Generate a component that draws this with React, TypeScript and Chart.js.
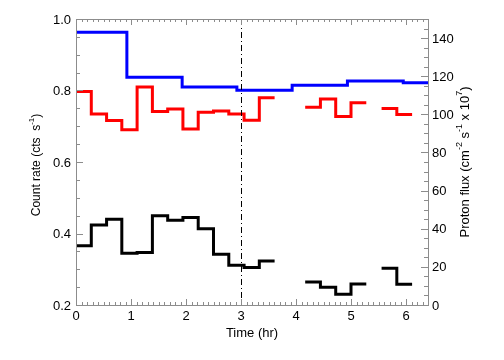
import { useEffect, useRef } from "react";
import { Chart, registerables } from "chart.js";

Chart.register(...registerables);

// Time bin edges (hr) for the count-rate light curves
const binEdges = [
  0, 0.278, 0.556, 0.833, 1.111, 1.389, 1.667, 1.944, 2.222, 2.5, 2.778, 3.056,
  3.333, 3.611, 3.889, 4.167, 4.444, 4.722, 5.0, 5.278, 5.556, 5.833, 6.111,
];
// Count rates (cts s^-1), null = no data
const redRate = [
  0.797, 0.734, 0.716, 0.69, 0.81, 0.741, 0.748, 0.692, 0.739, 0.743, 0.734,
  0.717, 0.78, null, null, 0.753, 0.776, 0.727, 0.766, null, 0.75, 0.733,
];
const blackRate = [
  0.366, 0.424, 0.44, 0.345, 0.347, 0.45, 0.437, 0.445, 0.413, 0.342, 0.311,
  0.305, 0.323, null, null, 0.264, 0.25, 0.23, 0.259, null, 0.303, 0.258,
];
// Proton flux (cm^-2 s^-1 x 10^7), hourly bins
const fluxEdges = [0, 0.925, 1.93, 2.925, 3.93, 4.935, 5.95, 6.4];
const protonFlux = [143.0, 119.4, 114.3, 112.6, 115.2, 117.5, 116.6];

// Axes
const xRange = [0, 6.4];
const xTicks = [0, 1, 2, 3, 4, 5, 6];
const xMinorStep = 0.1;
const leftRange = [0.2, 1.0];
const leftTicks = [0.2, 0.4, 0.6, 0.8, 1.0];
const leftMinorStep = 0.05;
const rightRange = [0, 150];
const rightTicks = [0, 20, 40, 60, 80, 100, 120, 140];
const rightMinorStep = 5;
const markerTimes = [3];

const FONT = "'Liberation Sans', Arial, Helvetica, sans-serif";
const AXIS_COLOR = "#8c8c8c";

function toSteps(edges: number[], values: (number | null)[]) {
  const pts: { x: number; y: number | null }[] = [];
  for (let i = 0; i < values.length; i++) {
    const v = values[i];
    if (v === null) continue;
    pts.push({ x: edges[i], y: v });
    if (i === values.length - 1 || values[i + 1] === null) {
      pts.push({ x: edges[i + 1], y: v });
      pts.push({ x: edges[i + 1], y: null });
    }
  }
  return pts;
}

type Part = { t: string; sup?: boolean };

function drawRich(ctx: CanvasRenderingContext2D, cx: number, cy: number, parts: Part[], size: number) {
  ctx.save();
  ctx.translate(cx, cy);
  ctx.rotate(-Math.PI / 2);
  ctx.fillStyle = "#000";
  ctx.textBaseline = "middle";
  ctx.textAlign = "left";
  const supSize = Math.round(size * 0.68);
  let total = 0;
  const widths = parts.map((p) => {
    ctx.font = `${p.sup ? supSize : size}px ${FONT}`;
    const w = ctx.measureText(p.t).width;
    total += w;
    return w;
  });
  let x = -total / 2;
  parts.forEach((p, i) => {
    ctx.font = `${p.sup ? supSize : size}px ${FONT}`;
    ctx.fillText(p.t, x, p.sup ? -size * 0.42 : 0);
    x += widths[i];
  });
  ctx.restore();
}

const framePlugin = {
  id: "idlFrame",
  afterDatasetsDraw(chart: any) {
    const ctx: CanvasRenderingContext2D = chart.ctx;
    const { left, right, top, bottom } = chart.chartArea;
    const xs = chart.scales.x;
    const yl = chart.scales.y;
    const yr = chart.scales.y1;

    // vertical dash-dot marker
    ctx.save();
    ctx.strokeStyle = "#000";
    ctx.lineWidth = 1;
    ctx.setLineDash([6, 3, 1, 3]);
    markerTimes.forEach((t) => {
      const px = Math.round(xs.getPixelForValue(t)) + 0.5;
      ctx.beginPath();
      ctx.moveTo(px, top);
      ctx.lineTo(px, bottom);
      ctx.stroke();
    });
    ctx.restore();

    // box
    ctx.save();
    ctx.strokeStyle = AXIS_COLOR;
    ctx.lineWidth = 1;
    ctx.strokeRect(Math.round(left) + 0.5, Math.round(top) + 0.5, Math.round(right - left), Math.round(bottom - top));

    const isMajor = (v: number, majors: number[]) => majors.some((m) => Math.abs(m - v) < 1e-6);

    // x ticks (bottom and top)
    ctx.beginPath();
    const nx = Math.round((xRange[1] - xRange[0]) / xMinorStep);
    for (let i = 0; i <= nx; i++) {
      const v = xRange[0] + i * xMinorStep;
      const px = Math.round(xs.getPixelForValue(v)) + 0.5;
      const len = isMajor(v, xTicks) ? 6 : 3;
      ctx.moveTo(px, bottom);
      ctx.lineTo(px, bottom - len);
      ctx.moveTo(px, top);
      ctx.lineTo(px, top + len);
    }
    // left ticks
    const nl = Math.round((leftRange[1] - leftRange[0]) / leftMinorStep);
    for (let i = 0; i <= nl; i++) {
      const v = leftRange[0] + i * leftMinorStep;
      const py = Math.round(yl.getPixelForValue(v)) + 0.5;
      const len = isMajor(v, leftTicks) ? 7 : 4;
      ctx.moveTo(left, py);
      ctx.lineTo(left + len, py);
    }
    // right ticks
    const nr = Math.round((rightRange[1] - rightRange[0]) / rightMinorStep);
    for (let i = 0; i <= nr; i++) {
      const v = rightRange[0] + i * rightMinorStep;
      const py = Math.round(yr.getPixelForValue(v)) + 0.5;
      const len = isMajor(v, rightTicks) ? 7 : 4;
      ctx.moveTo(right, py);
      ctx.lineTo(right - len, py);
    }
    ctx.stroke();
    ctx.restore();

    // axis titles with superscripts
    drawRich(
      ctx,
      37,
      (top + bottom) / 2 + 3,
      [{ t: "Count rate (cts  s" }, { t: "-1", sup: true }, { t: ")" }],
      12
    );
    drawRich(
      ctx,
      right + 37,
      (top + bottom) / 2,
      [
        { t: "Proton flux (cm" },
        { t: "-2", sup: true },
        { t: " s" },
        { t: "-1", sup: true },
        { t: " x 10" },
        { t: "7", sup: true },
        { t: ")" },
      ],
      13
    );
  },
};

export default function App() {
  const ref = useRef<HTMLCanvasElement | null>(null);

  useEffect(() => {
    document.body.style.margin = "0";
    if (!ref.current) return;
    const setTicks = (vals: number[]) => (scale: any) => {
      scale.ticks = vals.map((v) => ({ value: v }));
    };
    const chart = new Chart(ref.current, {
      type: "line",
      data: {
        datasets: [
          {
            label: "Proton flux",
            data: toSteps(fluxEdges, protonFlux),
            yAxisID: "y1",
            borderColor: "#0000ff",
            borderWidth: 3,
            stepped: "before",
            pointRadius: 0,
            spanGaps: false,
            borderJoinStyle: "miter",
            borderCapStyle: "butt",
          },
          {
            label: "Red count rate",
            data: toSteps(binEdges, redRate),
            yAxisID: "y",
            borderColor: "#ff0000",
            borderWidth: 3,
            stepped: "before",
            pointRadius: 0,
            spanGaps: false,
            borderJoinStyle: "miter",
            borderCapStyle: "butt",
          },
          {
            label: "Black count rate",
            data: toSteps(binEdges, blackRate),
            yAxisID: "y",
            borderColor: "#000000",
            borderWidth: 3,
            stepped: "before",
            pointRadius: 0,
            spanGaps: false,
            borderJoinStyle: "miter",
            borderCapStyle: "butt",
          },
        ],
      },
      options: {
        animation: false,
        responsive: false,
        maintainAspectRatio: false,
        layout: { padding: { top: 19, left: 0, right: 0, bottom: 0 } },
        plugins: { legend: { display: false }, tooltip: { enabled: false } },
        font: { family: FONT },
        scales: {
          x: {
            type: "linear",
            min: xRange[0],
            max: xRange[1],
            afterBuildTicks: setTicks(xTicks),
            afterFit: (s: any) => {
              s.height = 55;
            },
            grid: { display: false, drawTicks: false },
            border: { display: false },
            ticks: {
              color: "#000",
              font: { family: FONT, size: 13 },
              padding: 4,
              maxRotation: 0,
              autoSkip: false,
              callback: (v: any) => String(v),
            },
            title: {
              display: true,
              text: "Time (hr)",
              color: "#000",
              font: { family: FONT, size: 13 },
              padding: { top: 4, bottom: 19 },
            },
          },
          y: {
            type: "linear",
            position: "left",
            min: leftRange[0],
            max: leftRange[1],
            afterBuildTicks: setTicks(leftTicks),
            afterFit: (s: any) => {
              s.width = 76;
            },
            grid: { display: false, drawTicks: false },
            border: { display: false },
            ticks: {
              color: "#000",
              font: { family: FONT, size: 13 },
              padding: 5,
              labelOffset: 1,
              autoSkip: false,
              callback: (v: any) => Number(v).toFixed(1),
            },
          },
          y1: {
            type: "linear",
            position: "right",
            min: rightRange[0],
            max: rightRange[1],
            afterBuildTicks: setTicks(rightTicks),
            afterFit: (s: any) => {
              s.width = 76;
            },
            grid: { display: false, drawTicks: false },
            border: { display: false },
            ticks: {
              color: "#000",
              font: { family: FONT, size: 13 },
              padding: 4,
              labelOffset: 1,
              autoSkip: false,
              callback: (v: any) => String(v),
            },
          },
        },
      } as any,
      plugins: [framePlugin],
    });
    return () => chart.destroy();
  }, []);

  return (
    <div style={{ width: 504, height: 360 }}>
      <canvas ref={ref} width={504} height={360} style={{ display: "block" }} />
    </div>
  );
}
